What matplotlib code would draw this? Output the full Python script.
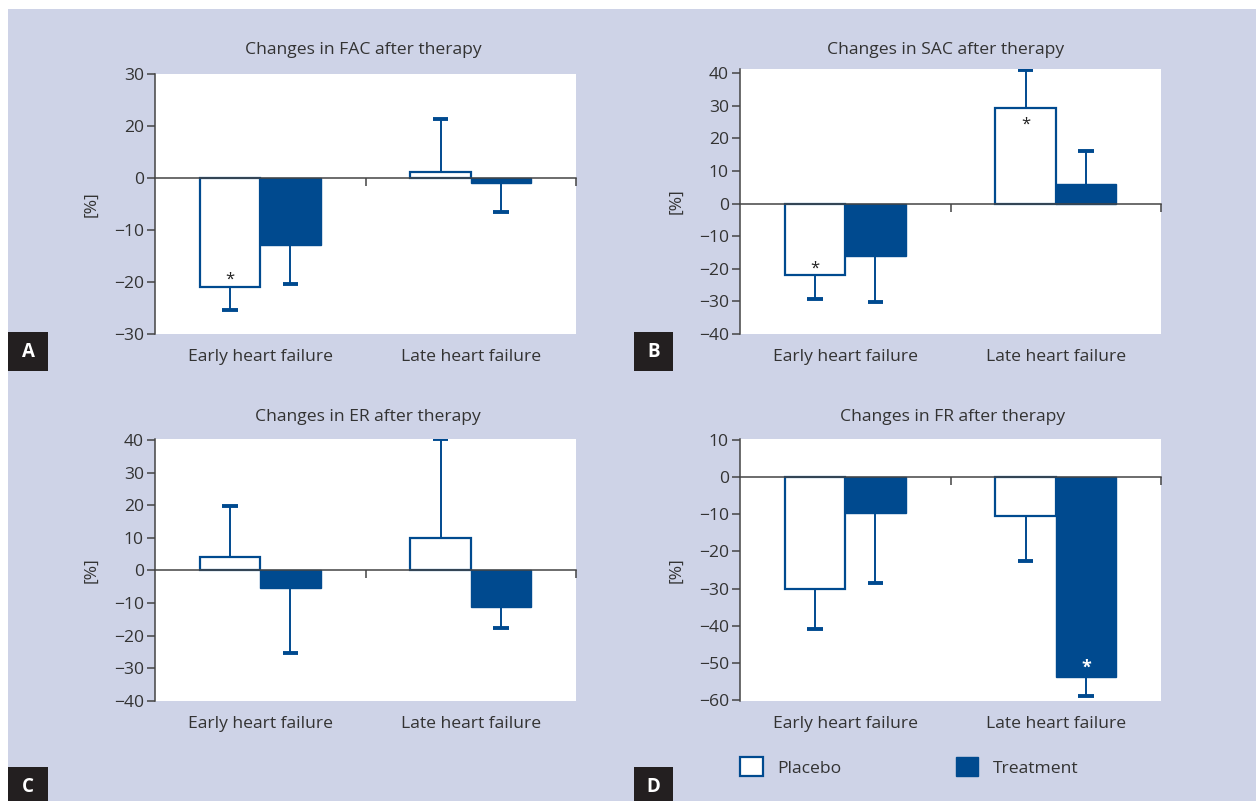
import matplotlib
matplotlib.use("Agg")
import matplotlib.pyplot as plt
from matplotlib.patches import Rectangle, Patch
from matplotlib.transforms import blended_transform_factory
import numpy as np

plt.rcParams['font.family'] = ['Open Sans', 'DejaVu Sans']

W, H = 1256, 801
BG = '#CED3E7'
BLUE = '#004A8F'
TXT = '#333333'
FS = 12.6

categories = ['Early heart failure', 'Late heart failure']
series = ['Placebo', 'Treatment']

# Panel A (FAC) -- values on the plotted axis scale
fac_placebo = [-21.0, 1.1]
fac_placebo_err = [4.4, 10.2]
fac_treat = [-12.9, -1.0]
fac_treat_err = [7.4, 5.5]
fac_ticks = [20, 10, 0, -10, -20, -30]
fac_ticklabels = ['30', '20', '0', '\u221210', '\u221220', '\u221230']

# Panel B (SAC)
sac_placebo = [-21.9, 29.4]
sac_placebo_err = [7.3, 11.7]
sac_treat = [-16.1, 6.0]
sac_treat_err = [14.1, 10.1]
sac_ticks = [40, 30, 20, 10, 0, -10, -20, -30, -40]

# Panel C (ER)
er_placebo = [4.0, 10.1]
er_placebo_err = [15.8, 30.1]
er_treat = [-5.4, -11.3]
er_treat_err = [19.8, 6.2]
er_ticks = [40, 30, 20, 10, 0, -10, -20, -30, -40]

# Panel D (FR)
fr_placebo = [-30.1, -10.4]
fr_placebo_err = [10.7, 12.2]
fr_treat = [-9.6, -53.7]
fr_treat_err = [18.9, 5.2]
fr_ticks = [10, 0, -10, -20, -30, -40, -50, -60]

fig = plt.figure(figsize=(W / 100, H / 100), dpi=100, facecolor='white')
fig.patches.append(Rectangle((8 / W, 0), 1 - 8 / W, 1 - 9 / H, transform=fig.transFigure,
                             facecolor=BG, edgecolor='none', zorder=-10))

BAR_W = 0.287
CAP_W = 0.072


def px_axes(l, r, t, b):
    return fig.add_axes([l / W, 1 - b / H, (r - l) / W, (b - t) / H])


def one_sided_err(ax, xs, vals, errs):
    ends = [v - e if v < 0 else v + e for v, e in zip(vals, errs)]
    ax.vlines(xs, vals, ends, colors=BLUE, linewidth=1.4, zorder=1)
    ax.hlines(ends, [x - CAP_W / 2 for x in xs], [x + CAP_W / 2 for x in xs],
              colors=BLUE, linewidth=2.8, zorder=1)


def panel(box, title, title_xy, placebo, p_err, treat, t_err, ylim, ticks, ticklabels=None,
          stars=()):
    ax = px_axes(*box)
    ax.set_facecolor('white')
    x = np.arange(len(categories))
    w = BAR_W
    ax.bar(x - w / 2, placebo, w, facecolor='white', edgecolor=BLUE, linewidth=1.6, zorder=2)
    ax.bar(x + w / 2, treat, w, facecolor=BLUE, edgecolor=BLUE, linewidth=1.0, zorder=2)
    one_sided_err(ax, x - w / 2, placebo, p_err)
    one_sided_err(ax, x + w / 2, treat, t_err)
    ax.set_xlim(-0.5, 1.5)
    ax.set_ylim(*ylim)
    for s in ['top', 'right']:
        ax.spines[s].set_visible(False)
    ax.spines['bottom'].set_position(('data', 0))
    for s in ['bottom', 'left']:
        ax.spines[s].set_color('#444444')
        ax.spines[s].set_linewidth(1.1)
    ax.spines['bottom'].set_zorder(3)
    ax.set_xticks([0.5, 1.5])
    ax.set_xticklabels([])
    ax.tick_params(axis='x', direction='out', length=5.5, width=1.1, color='#444444')
    ax.set_yticks(ticks)
    if ticklabels is not None:
        ax.set_yticklabels(ticklabels)
    ax.tick_params(axis='y', direction='out', length=6, width=1.1, color='#444444',
                   labelsize=FS, labelcolor=TXT, pad=2)
    ax.set_ylabel('[%]', fontsize=FS, color=TXT, va='center')
    ax.yaxis.set_label_coords(-0.15, 0.5)
    trans = blended_transform_factory(ax.transData, ax.transAxes)
    for i, c in enumerate(categories):
        ax.text(x[i], -23 / (box[3] - box[2]), c, transform=trans, ha='center', va='center',
                fontsize=FS, color=TXT)
    fig.text(title_xy[0] / W, 1 - title_xy[1] / H, title, ha='center', va='center',
             fontsize=FS, color=TXT)
    for (xi, yi, col) in stars:
        ax.annotate('*', (xi, yi), xytext=(0, -3), textcoords='offset points',
                    ha='center', va='center', fontsize=12 if col == 'k' else 13,
                    color=('#222222' if col == 'k' else 'white'),
                    fontweight=('normal' if col == 'k' else 'bold'), zorder=4)
    return ax


w = BAR_W
panel((155, 576, 74, 334), 'Changes in FAC after therapy', (363, 50),
      fac_placebo, fac_placebo_err, fac_treat, fac_treat_err, (-30, 20), fac_ticks,
      fac_ticklabels, stars=[(0 - w / 2, -18.7, 'k')])
panel((740, 1161, 69, 334), 'Changes in SAC after therapy', (946, 50),
      sac_placebo, sac_placebo_err, sac_treat, sac_treat_err, (-40, 41.3), sac_ticks,
      stars=[(0 - w / 2, -18.7, 'k'), (1 - w / 2, 25.5, 'k')])
panel((155, 576, 439, 701), 'Changes in ER after therapy', (368, 417),
      er_placebo, er_placebo_err, er_treat, er_treat_err, (-40, 40.3), er_ticks)
panel((740, 1161, 439, 701), 'Changes in FR after therapy', (953, 417),
      fr_placebo, fr_placebo_err, fr_treat, fr_treat_err, (-60.2, 10.2), fr_ticks,
      stars=[(1 + w / 2, -50.1, 'w')])

# panel letters
for letter, (l, t, r, b) in {'A': (8, 332, 48, 371), 'B': (634, 332, 673, 371),
                             'C': (8, 767, 48, 801), 'D': (634, 767, 673, 801)}.items():
    fig.patches.append(Rectangle((l / W, 1 - b / H), (r - l) / W, (b - t) / H,
                                 transform=fig.transFigure, facecolor='#231F20',
                                 edgecolor='none', zorder=5))
    fig.text((l + r) / 2 / W, 1 - (t + 20) / H, letter, ha='center', va='center',
             fontsize=13.5, fontweight='bold', color='white', zorder=6)

handles = [Patch(facecolor='white', edgecolor=BLUE, linewidth=1.6, label=series[0]),
           Patch(facecolor=BLUE, edgecolor=BLUE, label=series[1])]
fig.legend(handles=handles, loc='center left', bbox_to_anchor=(740 / W, 1 - 767 / H),
           ncol=2, frameon=False, fontsize=FS, handlelength=1.3, handleheight=1.3,
           handletextpad=0.85, columnspacing=6.5, borderpad=0, borderaxespad=0,
           labelcolor=TXT)

fig.savefig('out.png', dpi=100, facecolor='white')
